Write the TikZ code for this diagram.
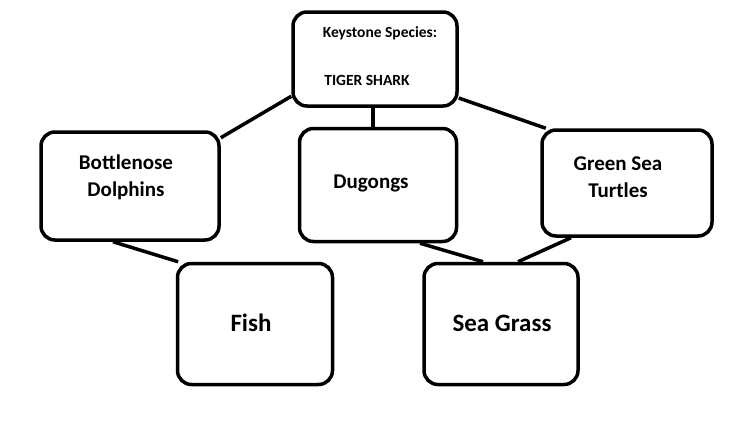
\documentclass[tikz,border=0pt]{standalone}
\usepackage{fontspec}
\setmainfont{Carlito}
\begin{document}
\begin{tikzpicture}[x=1pt,y=-1pt,line width=3.5pt]
\tikzset{box/.style={draw,rounded corners=14pt,inner sep=0pt}}
\useasboundingbox (0,0) rectangle (746,423);
% boxes
\node[box,minimum width=164,minimum height=94] (shark) at (375,59) {};
\node[font=\bfseries\fontsize{15.5}{18}\selectfont] at (380,33) {Keystone Species:};
\node[font=\bfseries\fontsize{15.5}{18}\selectfont] at (367,80) {TIGER SHARK};
\node[box,minimum width=178,minimum height=108] (dolphins) at (130,186) {};
\node[font=\bfseries\fontsize{21}{27}\selectfont,align=center] at (126,177) {Bottlenose\\Dolphins};
\node[box,minimum width=157,minimum height=113] (dugongs) at (378,185) {};
\node[font=\bfseries\fontsize{21}{25}\selectfont] at (371,183) {Dugongs};
\node[box,minimum width=170,minimum height=106] (turtles) at (627,183) {};
\node[font=\bfseries\fontsize{21}{27}\selectfont,align=center] at (618,177) {Green Sea\\Turtles};
\node[box,minimum width=155,minimum height=121] (fish) at (255,324) {};
\node[font=\bfseries\fontsize{25}{29}\selectfont] at (251,323) {Fish};
\node[box,minimum width=154,minimum height=121] (grass) at (501,324) {};
\node[font=\bfseries\fontsize{25}{29}\selectfont] at (502,323) {Sea Grass};
% links
\draw (shark.204) -- (dolphins.28);
\draw ([xshift=-2pt]shark.south) -- ([xshift=-5pt]dugongs.north);
\draw (shark.335) -- (turtles.146);
\draw ([xshift=-17pt]dolphins.south) -- (fish.141);
\draw ([xshift=42pt]dugongs.south) -- ([xshift=-18pt]grass.north);
\draw ([xshift=-56pt]turtles.south) -- ([xshift=17pt]grass.north);
\end{tikzpicture}
\end{document}
